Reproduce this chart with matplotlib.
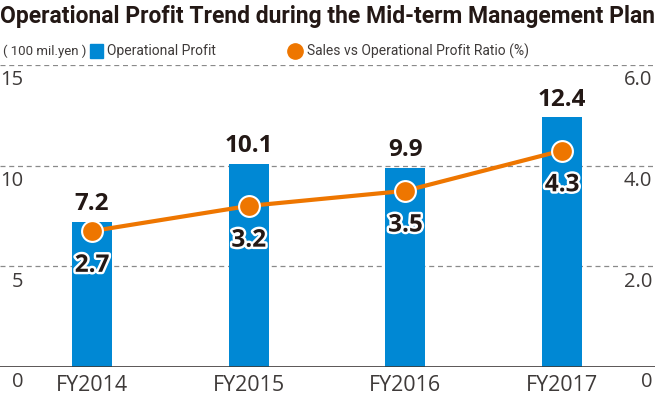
import matplotlib
matplotlib.use("Agg")
from matplotlib import pyplot as plt
import matplotlib.patheffects as pe
import numpy as np

years = ["FY2014", "FY2015", "FY2016", "FY2017"]
profit = [7.2, 10.1, 9.9, 12.4]
ratio = [2.7, 3.2, 3.5, 4.3]
left_ticks = [0, 5, 10, 15]
right_ticks = ["0", "2.0", "4.0", "6.0"]

BLUE = "#0088d4"
ORANGE = "#ee7600"
DARK = "#231815"
GREY = "#3e3a39"
NARROW = ["Roboto", "DejaVu Sans"]

plt.rcParams["font.family"] = ["Open Sans", "DejaVu Sans"]

W, H = 655, 398
fig = plt.figure(figsize=(W / 100, H / 100), dpi=100)

# axes box in pixels: baseline y=367, top grid y=65
ax = fig.add_axes([0, 1 - 367 / H, 1, (367 - 65) / H])
ax2 = ax.twinx()

x = np.arange(len(years))
px = 156.67
ax.set_xlim(-92 / px, (W - 92) / px)
ax.set_ylim(0, 15)
ax2.set_ylim(0, 6)

for a in (ax, ax2):
    a.axis("off")

for v in left_ticks[1:]:
    ax.axhline(v, color="#8a8a8a", lw=0.9, ls=(0, (4, 3)), zorder=0)
ax.axhline(0, color=GREY, lw=1.2, zorder=3)

ax.bar(x, profit, width=40 / px, color=BLUE, zorder=2)
for xi, v in zip(x, profit):
    ax.annotate(f"{v}", (xi, v), xytext=(0, 4), textcoords="offset points",
                ha="center", va="bottom", fontsize=17.5, fontweight="bold", color=DARK)

ax2.plot(x, ratio, color=ORANGE, lw=3, zorder=4, marker="o", ms=15,
         mfc=ORANGE, mec="white", mew=1.5)
for xi, v in zip(x, ratio):
    ax2.annotate(f"{v}", (xi, v), xytext=(0, -25), textcoords="offset points",
                 ha="center", va="center", fontsize=17.5, fontweight="bold", color=DARK,
                 zorder=5,
                 path_effects=[pe.withStroke(linewidth=3.5, foreground="white")])

# y tick labels drawn a bit below their gridlines
for v in left_ticks:
    ax.annotate(str(v), (0, v), xycoords=("figure fraction", "data"),
                xytext=(17, -11), textcoords="offset points",
                ha="right", va="center", fontsize=14.5, color=GREY)
for i, s in enumerate(right_ticks):
    ax2.annotate(s, (1, i * 2), xycoords=("figure fraction", "data"),
                 xytext=(-2, -11), textcoords="offset points",
                 ha="right", va="center", fontsize=14.5, color=GREY)

for xi, s in zip(x, years):
    ax.annotate(s, (xi, 0), xytext=(0, -13), textcoords="offset points",
                ha="center", va="center", fontsize=15.5, color=GREY)

fig.text(0.0, 1 - 17 / H, "Operational Profit Trend during the Mid-term Management Plan",
         ha="left", va="center", fontsize=16.5, fontweight="bold", color=DARK,
         family=NARROW)

# legend row
ly = 1 - 51 / H
fig.text(3 / W, ly, "( 100 mil.yen )", ha="left", va="center", fontsize=9.5,
         color=GREY, family=NARROW)
fig.patches.append(plt.Rectangle((90 / W, ly - 7 / H), 13 / W, 14 / H,
                                 transform=fig.transFigure, color=BLUE))
fig.text(107 / W, ly, "Operational Profit", ha="left", va="center", fontsize=10,
         color=GREY, family=NARROW)
fig.lines.append(plt.Line2D([295 / W], [ly], transform=fig.transFigure, marker="o",
                            ms=11, color=ORANGE, mec=ORANGE))
fig.text(307 / W, ly, "Sales vs Operational Profit Ratio (%)", ha="left", va="center",
         fontsize=10, color=GREY, family=NARROW)

plt.savefig("out.png", dpi=100)
